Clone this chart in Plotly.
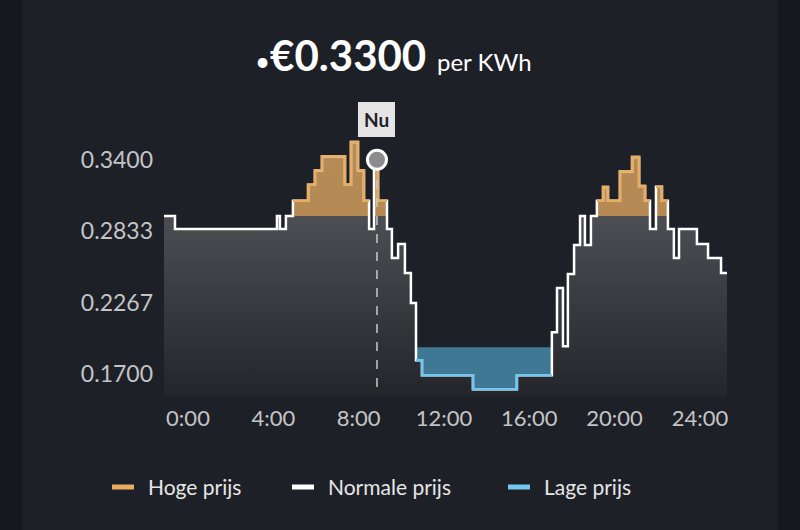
import plotly.graph_objects as go

starts = [-1.125,-0.61,4.17,4.31,4.59,4.92,5.63,5.95,6.28,7.36,7.64,7.97,8.25,8.49,8.72,8.91,9.33,9.56,9.85,10.17,10.45,10.69,10.97,13.36,15.42,17.06,17.3,17.58,17.81,18.1,18.38,18.61,18.89,19.17,19.46,19.69,20.25,20.82,21.15,21.43,21.66,21.94,22.22,22.5,22.78,23.02,23.86,24.38,24.99]
prices = [0.2955,0.2851,0.2955,0.2851,0.2955,0.3076,0.3201,0.3314,0.3425,0.3201,0.3540,0.3314,0.3076,0.2851,0.3399,0.3076,0.2851,0.2621,0.2732,0.2502,0.2264,0.1811,0.1692,0.1581,0.1692,0.2033,0.2383,0.1922,0.2494,0.2724,0.2955,0.2724,0.2955,0.3076,0.3185,0.3076,0.3307,0.3421,0.3193,0.3076,0.2851,0.3187,0.3076,0.2851,0.2621,0.2851,0.2732,0.2621,0.2502]
end_hour = 25.27
high_th = 0.2955
low_th = 0.1914
now_hour = 8.86
now_price = 0.3400
ytick_vals = [0.17, 0.2267, 0.2833, 0.34]
ytick_text = ["0.1700", "0.2267", "0.2833", "0.3400"]
xtick_vals = [0, 4, 8, 12, 16, 20, 24]
xtick_text = ["0:00", "4:00", "8:00", "12:00", "16:00", "20:00", "24:00"]
legend_names = ["Hoge prijs", "Normale prijs", "Lage prijs"]
YMIN, YMAX = 0.152, 0.362

ends = starts[1:] + [end_hour]
def steps(vals):
    xs, ys = [], []
    for s, e, v in zip(starts, ends, vals):
        xs += [s, e]; ys += [v, v]
    return xs, ys

def masked(vals, cond):
    xs, ys = [], []
    for s, e, v, c in zip(starts, ends, vals, cond):
        if c:
            xs += [s, e]; ys += [v, v]
        else:
            xs.append(None); ys.append(None)
    return xs, ys

BG = "#1e2027"
L, R, T, B = 164, 73, 132, 133
PW, PH = 800 - L - R, 530 - T - B
def px(xp): return (xp - L) / PW
def py(yp): return (530 - B - yp) / PH

fig = go.Figure()
x, y = steps(prices)
fig.add_trace(go.Scatter(x=x, y=[YMIN]*len(x), mode="lines", line=dict(width=0), hoverinfo="skip"))
fig.add_trace(go.Scatter(x=x, y=y, mode="lines", line=dict(width=0), fill="tonexty",
                         fillgradient=dict(type="vertical", colorscale=[[0, "#23252b"], [1, "#5d5f65"]]), hoverinfo="skip"))
hi = [max(p, high_th) for p in prices]
xh, yh = steps(hi)
fig.add_trace(go.Scatter(x=xh, y=[high_th]*len(xh), mode="lines", line=dict(width=0), hoverinfo="skip"))
fig.add_trace(go.Scatter(x=xh, y=yh, mode="lines", line=dict(width=0), fill="tonexty", fillcolor="rgba(196,146,84,0.88)", hoverinfo="skip"))
lo = [min(p, low_th) for p in prices]
xl, yl = steps(lo)
fig.add_trace(go.Scatter(x=xl, y=[low_th]*len(xl), mode="lines", line=dict(width=0), hoverinfo="skip"))
fig.add_trace(go.Scatter(x=xl, y=yl, mode="lines", line=dict(width=0), fill="tonexty", fillcolor="rgba(66,130,162,0.9)", hoverinfo="skip"))
fig.add_trace(go.Scatter(x=x, y=y, mode="lines", line=dict(color="white", width=2.5), hoverinfo="skip"))
xo, yo = masked(prices, [p > high_th + 1e-4 for p in prices])
fig.add_trace(go.Scatter(x=xo, y=yo, mode="lines", line=dict(color="#e9ad62", width=2.5), connectgaps=False, hoverinfo="skip"))
xb, yb = masked(prices, [p < low_th for p in prices])
fig.add_trace(go.Scatter(x=xb, y=yb, mode="lines", line=dict(color="#74c6ef", width=2.5), connectgaps=False, hoverinfo="skip"))
fig.add_trace(go.Scatter(x=[now_hour, now_hour], y=[YMIN+0.008, now_price], mode="lines",
                         line=dict(color="#c9c9c9", width=1.5, dash="dash"), hoverinfo="skip"))
fig.add_trace(go.Scatter(x=[now_hour], y=[now_price], mode="markers",
                         marker=dict(size=19, color="#8c8c8f", line=dict(color="white", width=3)), hoverinfo="skip"))

fig.add_annotation(x=now_hour, y=now_price, yshift=40, text="<b>Nu</b>", showarrow=False,
                   bgcolor="#e4e4e4", bordercolor="#e4e4e4", borderpad=5,
                   font=dict(color="#1e2027", size=19, family="Lato"))
fig.add_annotation(x=px(253), y=py(55), xref="paper", yref="paper", xanchor="left", yanchor="middle", showarrow=False,
                   text="<span style='font-size:26px'>•</span><b>€0.3300</b> <span style='font-size:24px'>per KWh</span>",
                   font=dict(color="white", size=42, family="Lato"))

fig.update_layout(
    width=800, height=530, paper_bgcolor=BG, plot_bgcolor=BG, showlegend=False,
    margin=dict(l=L, r=R, t=T, b=B),
    xaxis=dict(range=[starts[0], end_hour], tickvals=xtick_vals, ticktext=xtick_text, showgrid=False,
               zeroline=False, showline=False, ticks="", tickfont=dict(color="#c4c4c6", size=22, family="Lato"), ticklabelstandoff=6),
    yaxis=dict(range=[YMIN, YMAX], tickvals=ytick_vals, ticktext=ytick_text, showgrid=False,
               zeroline=False, showline=False, ticks="", tickfont=dict(color="#c4c4c6", size=23, family="Lato"), ticklabelstandoff=10),
)
cols = ["#e9ad62", "white", "#74c6ef"]
for name, col, xp in zip(legend_names, cols, [112, 292, 508]):
    fig.add_shape(type="line", xref="paper", yref="paper", x0=px(xp), x1=px(xp + 22),
                  y0=py(487), y1=py(487), line=dict(color=col, width=5))
    fig.add_annotation(xref="paper", yref="paper", x=px(xp + 34), y=py(486),
                       xanchor="left", yanchor="middle", showarrow=False, text=name,
                       font=dict(color="#e6e6e6", size=21, family="Lato"))
for x0, x1 in [(0, 22), (778, 800)]:
    fig.add_shape(type="rect", xref="paper", yref="paper", x0=px(x0), x1=px(x1), y0=py(530), y1=py(0),
                  fillcolor="#17181d", line=dict(width=0), layer="below")
fig.write_html("out.html", config={"displayModeBar": False},
               post_script="document.body.style.margin='0';document.body.style.background='#1e2027';")
